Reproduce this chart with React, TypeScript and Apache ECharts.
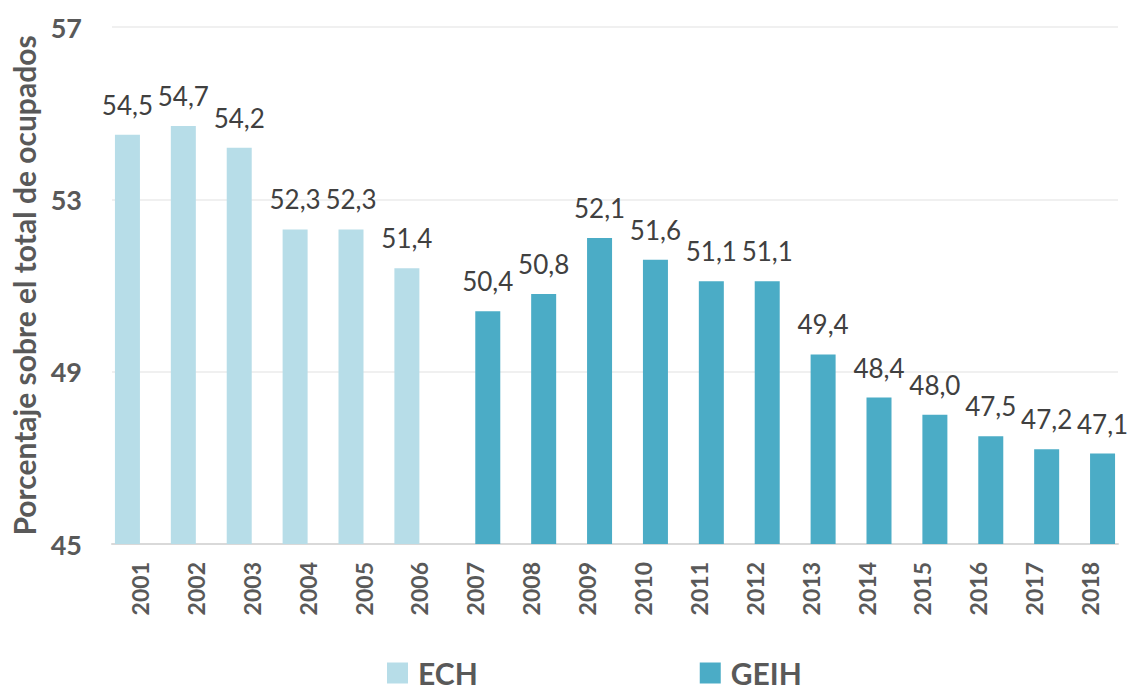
import React, { useEffect, useRef } from "react";
import * as echarts from "echarts";

const years = [
  "2001", "2002", "2003", "2004", "2005", "2006", "2007", "2008", "2009",
  "2010", "2011", "2012", "2013", "2014", "2015", "2016", "2017", "2018",
];
const ech = [54.5, 54.7, 54.2, 52.3, 52.3, 51.4, null, null, null, null, null, null, null, null, null, null, null, null];
const geih = [null, null, null, null, null, null, 50.4, 50.8, 52.1, 51.6, 51.1, 51.1, 49.4, 48.4, 48.0, 47.5, 47.2, 47.1];
const yMin = 45;
const yMax = 57;
const yInterval = 4;

const FONT = "Lato";
const AXIS_GRAY = "#595959";
const LABEL_GRAY = "#404040";

const fmt = (p: any) => (p.value == null ? "" : Number(p.value).toFixed(1).replace(".", ","));

export default function App() {
  const ref = useRef<HTMLDivElement>(null);
  useEffect(() => {
    if (!ref.current) return;
    const chart = echarts.init(ref.current, null, { renderer: "svg" });
    const labelCfg = {
      show: true,
      position: "top",
      distance: 17,
      formatter: fmt,
      fontFamily: FONT,
      fontSize: 26,
      color: LABEL_GRAY,
    };
    chart.setOption({
      animation: false,
      backgroundColor: "#ffffff",
      grid: { left: 112, right: 12, top: 27, bottom: 148, containLabel: false },
      legend: {
        left: 382,
        top: 653,
        itemWidth: 21,
        itemHeight: 21,
        itemGap: 222,
        icon: "rect",
        textStyle: {
          fontFamily: FONT,
          fontSize: 30,
          fontWeight: "bold",
          color: AXIS_GRAY,
          padding: [0, 0, 0, 5],
          lineHeight: 30,
        },
        data: ["ECH", "GEIH"],
      },
      xAxis: {
        type: "category",
        data: years,
        axisTick: { show: false },
        axisLine: { lineStyle: { color: "#d9d9d9", width: 2 } },
        axisLabel: {
          rotate: 90,
          margin: 18,
          fontFamily: FONT,
          fontSize: 23,
          fontWeight: "bold",
          color: AXIS_GRAY,
          interval: 0,
        },
      },
      yAxis: {
        type: "value",
        min: yMin,
        max: yMax,
        interval: yInterval,
        name: "Porcentaje sobre el total de ocupados",
        nameLocation: "middle",
        nameGap: 73,
        nameTextStyle: {
          fontFamily: FONT,
          fontSize: 30,
          fontWeight: "bold",
          color: AXIS_GRAY,
        },
        axisLine: { show: false },
        axisTick: { show: false },
        splitLine: { lineStyle: { color: "#f0f0f0", width: 2 } },
        axisLabel: {
          margin: 30,
          fontFamily: FONT,
          fontSize: 27,
          fontWeight: "bold",
          color: AXIS_GRAY,
        },
      },
      series: [
        {
          name: "ECH",
          type: "bar",
          data: ech,
          barWidth: 25,
          barGap: "0%",
          itemStyle: { color: "#b7dde8" },
          label: labelCfg,
        },
        {
          name: "GEIH",
          type: "bar",
          data: geih,
          barWidth: 25,
          barGap: "0%",
          itemStyle: { color: "#4bacc6" },
          label: labelCfg,
        },
      ],
    });
    return () => chart.dispose();
  }, []);
  return (
    <div
      ref={ref}
      style={{ position: "fixed", left: 0, top: 0, width: 1130, height: 692 }}
    />
  );
}
